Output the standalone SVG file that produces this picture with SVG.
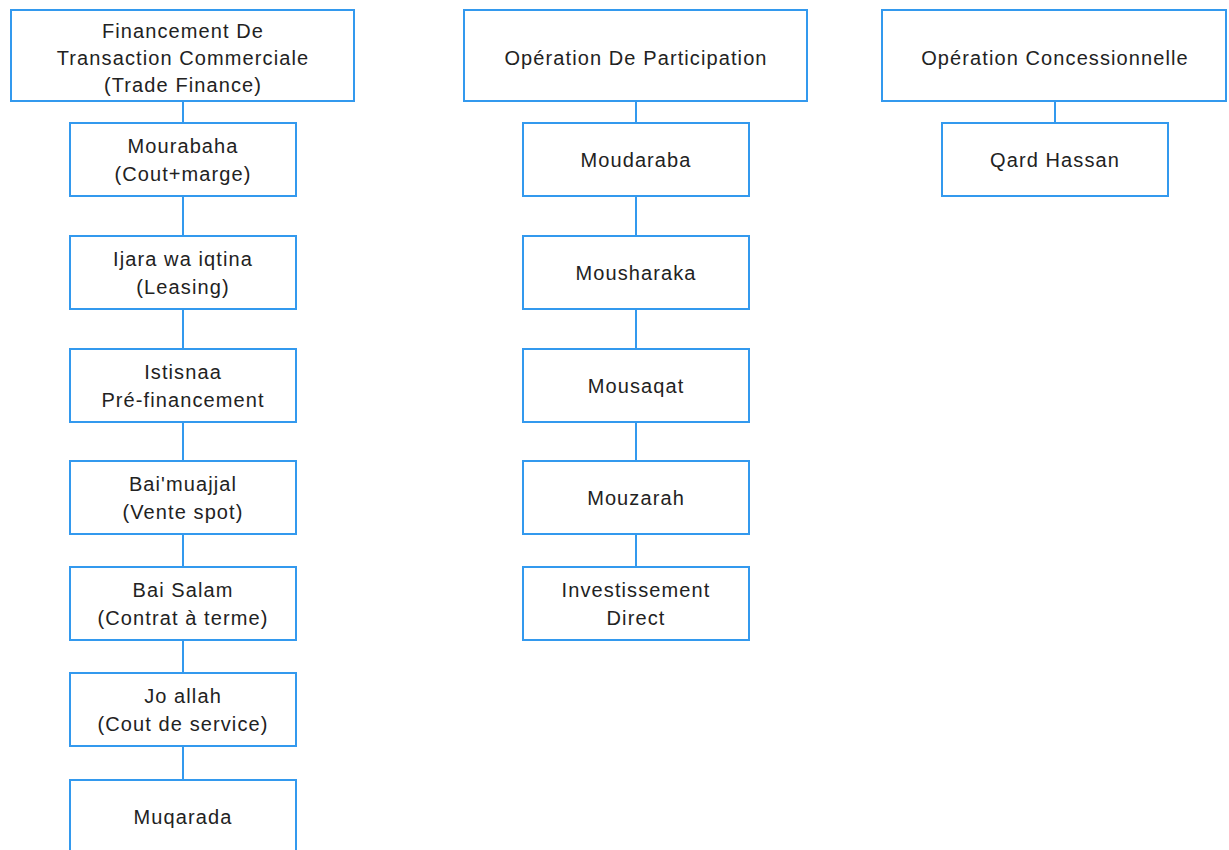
<svg xmlns="http://www.w3.org/2000/svg" width="1229" height="850" viewBox="0 0 1229 850">
<style>
.b{fill:#fff;stroke:#3399ee;stroke-width:2}
.c{stroke:#3399ee;stroke-width:2;fill:none}
text{font-family:"Liberation Sans",Arial,sans-serif;font-size:20px;letter-spacing:1.1px;fill:#222;text-anchor:middle;dominant-baseline:central}
</style>
<rect width="1229" height="850" fill="#fff"/>
<g id="connectors">
<path class="c" d="M183 101V123M183 196V236M183 309V349M183 422V461M183 534V567M183 640V673M183 746V780"/>
<path class="c" d="M636 101V123M636 196V236M636 309V349M636 422V461M636 534V567"/>
<path class="c" d="M1055 101V123"/>
</g>
<g id="n1"><rect class="b" x="11" y="10" width="343" height="91"/><text x="183" y="31">Financement De</text><text x="183" y="58">Transaction Commerciale</text><text x="183" y="85">(Trade Finance)</text></g>
<g id="n2"><rect class="b" x="70" y="123" width="226" height="73"/><text x="183" y="146">Mourabaha</text><text x="183" y="174">(Cout+marge)</text></g>
<g id="n3"><rect class="b" x="70" y="236" width="226" height="73"/><text x="183" y="259">Ijara wa iqtina</text><text x="183" y="287">(Leasing)</text></g>
<g id="n4"><rect class="b" x="70" y="349" width="226" height="73"/><text x="183" y="372">Istisnaa</text><text x="183" y="400">Pré-financement</text></g>
<g id="n5"><rect class="b" x="70" y="461" width="226" height="73"/><text x="183" y="484">Bai'muajjal</text><text x="183" y="512">(Vente spot)</text></g>
<g id="n6"><rect class="b" x="70" y="567" width="226" height="73"/><text x="183" y="590">Bai Salam</text><text x="183" y="618">(Contrat à terme)</text></g>
<g id="n7"><rect class="b" x="70" y="673" width="226" height="73"/><text x="183" y="696">Jo allah</text><text x="183" y="724">(Cout de service)</text></g>
<g id="n8"><rect class="b" x="70" y="780" width="226" height="74"/><text x="183" y="817">Muqarada</text></g>
<g id="n9"><rect class="b" x="464" y="10" width="343" height="91"/><text x="636" y="58">Opération De Participation</text></g>
<g id="n10"><rect class="b" x="523" y="123" width="226" height="73"/><text x="636" y="160">Moudaraba</text></g>
<g id="n11"><rect class="b" x="523" y="236" width="226" height="73"/><text x="636" y="273">Mousharaka</text></g>
<g id="n12"><rect class="b" x="523" y="349" width="226" height="73"/><text x="636" y="386">Mousaqat</text></g>
<g id="n13"><rect class="b" x="523" y="461" width="226" height="73"/><text x="636" y="498">Mouzarah</text></g>
<g id="n14"><rect class="b" x="523" y="567" width="226" height="73"/><text x="636" y="590">Investissement</text><text x="636" y="618">Direct</text></g>
<g id="n15"><rect class="b" x="882" y="10" width="344" height="91"/><text x="1055" y="58">Opération Concessionnelle</text></g>
<g id="n16"><rect class="b" x="942" y="123" width="226" height="73"/><text x="1055" y="160">Qard Hassan</text></g>
</svg>
